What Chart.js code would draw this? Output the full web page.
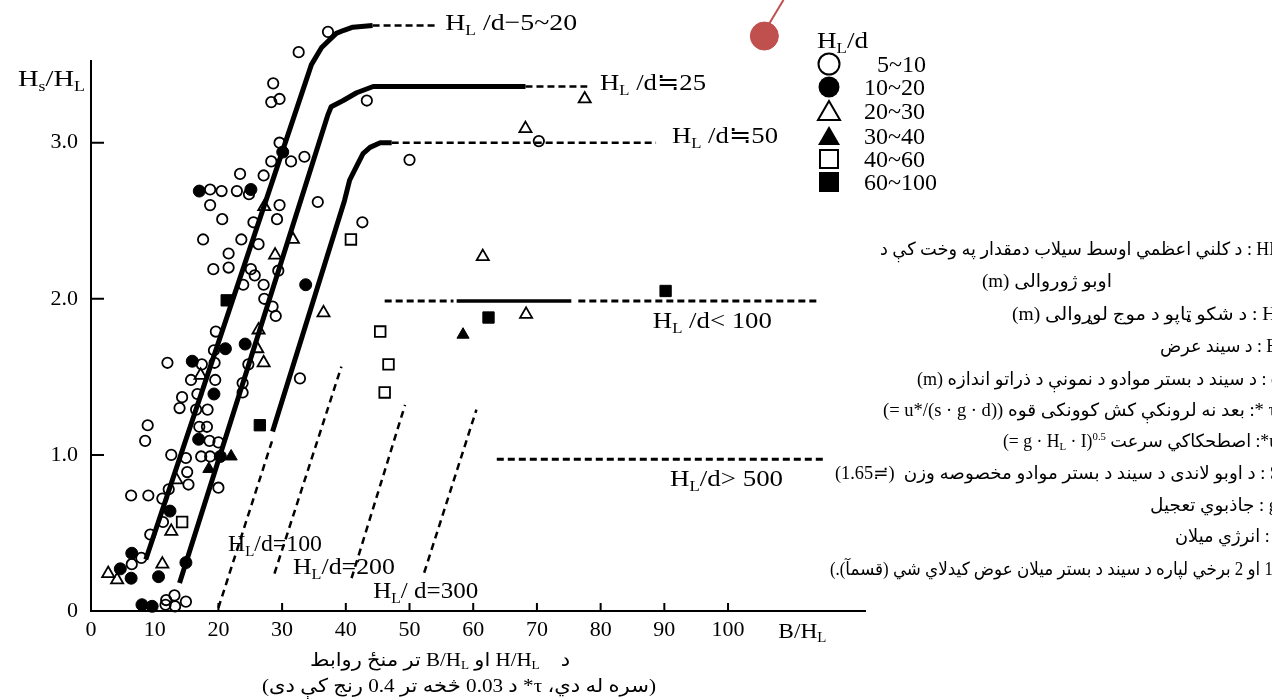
<!DOCTYPE html>
<html>
<head>
<meta charset="utf-8">
<script src="https://cdn.jsdelivr.net/npm/chart.js@4.4.1/dist/chart.umd.min.js"></script>
<style>
  html, body { margin: 0; padding: 0; background: #fff; }
  canvas { display: block; }
</style>
</head>
<body>
<canvas id="chart" width="1272" height="699"></canvas>
<script>
// ---- Series: Hs/HL against B/HL, grouped by HL/d ----
const openCircle5to10 = [
  [37.2,3.71],[32.6,3.58],[28.6,3.38],[28.3,3.26],[29.6,3.28],[29.6,3.00],[28.3,2.88],[31.4,2.88],[33.5,2.91],
  [23.4,2.80],[27.1,2.79],[18.7,2.70],[20.5,2.69],[22.9,2.69],[24.8,2.67],[18.7,2.60],[29.6,2.60],[35.6,2.62],
  [20.6,2.51],[25.5,2.49],[29.2,2.51],[17.6,2.38],[23.6,2.38],[26.3,2.35],[21.6,2.29],[19.2,2.19],[21.6,2.20],
  [25.1,2.19],[25.7,2.15],[29.4,2.18],[23.9,2.09],[27.1,2.09],[27.2,2.00],[28.5,1.95],[29.0,1.89],[43.3,3.27],
  [50.0,2.89],[70.3,3.01],[42.6,2.49],[32.8,1.49],[19.6,1.79],[19.3,1.67],[12.0,1.59],[17.4,1.58],[19.4,1.59],
  [24.7,1.58],[15.7,1.48],[19.5,1.48],[23.8,1.46],[14.3,1.37],[16.7,1.39],[23.8,1.40],[13.9,1.30],[16.5,1.29],
  [18.3,1.29],[8.9,1.19],[17.0,1.18],[18.2,1.18],[8.5,1.09],[18.6,1.09],[20.0,1.08],[12.6,1.00],[14.9,0.98],
  [17.3,0.99],[18.7,0.99],[15.1,0.89],[15.3,0.81],[20.0,0.79],[6.3,0.74],[9.0,0.74],[12.2,0.78],[11.2,0.72],
  [11.3,0.57],[9.3,0.49],[7.9,0.34],[6.4,0.30],[11.7,0.04],[13.1,0.10],[11.8,0.07],[13.2,0.03],[14.9,0.06]
];
const filledCircle10to20 = [
  [30.1,2.94],[17.0,2.69],[25.1,2.70],[33.7,2.09],[21.1,1.68],[24.2,1.71],[15.9,1.60],[19.3,1.39],[16.9,1.10],
  [20.3,0.99],[12.4,0.64],[6.4,0.37],[4.6,0.27],[6.3,0.21],[10.6,0.22],[14.9,0.31],[8.0,0.04],[9.6,0.03]
];
const openTriangle20to30 = [
  [77.5,3.28],[68.2,3.09],[27.2,2.59],[31.7,2.38],[28.9,2.28],[36.5,1.91],[61.5,2.27],[68.3,1.90],[26.3,1.80],
  [26.1,1.68],[27.1,1.59],[17.2,1.51],[13.4,0.84],[12.6,0.51],[2.7,0.24],[4.1,0.20],[11.2,0.30]
];
const filledTriangle30to40 = [[22.0,0.99],[18.5,0.91],[58.4,1.77]];
const openSquare40to60 = [[14.3,0.57],[40.8,2.38],[45.4,1.79],[46.7,1.58],[46.1,1.40]];
const filledSquare60to100 = [[21.3,1.99],[26.5,1.19],[62.4,1.88],[90.2,2.05]];

// ---- Envelope curves ----
const curve5to20 = [[8.6,0.33],[34.6,3.50],[36.2,3.61],[38.5,3.70],[39.7,3.72],[41.1,3.74],[44.2,3.75]];
const curve5to20Ext = [[44.2,3.75],[54.3,3.75]];
const curve25 = [[13.9,0.18],[37.2,3.18],[37.7,3.23],[39.6,3.27],[41.7,3.32],[44.3,3.36],[68.2,3.36]];
const curve25Ext = [[68.2,3.36],[77.9,3.36]];
const curve50 = [[28.5,1.15],[39.8,2.63],[40.6,2.76],[41.7,2.85],[42.7,2.93],[43.8,2.97],[45.4,3.00],[47.2,3.00]];
const curve50Ext = [[47.2,3.00],[88.7,3.00]];
const slope100 = [[20.0,0.02],[28.5,1.10]];
const slope200 = [[28.8,0.24],[39.3,1.565]];
const slope300 = [[40.9,0.21],[49.3,1.32]];
const slope400 = [[52.3,0.245],[60.5,1.29]];
const under100Left = [[46.1,1.986],[56.9,1.986]];
const under100Mid = [[57.4,1.986],[75.4,1.986]];
const under100Right = [[76.5,1.986],[114.1,1.986]];
const over500 = [[63.7,0.972],[115.4,0.972]];

// ---- Pointer mark ----
const pointerDot = [[105.7,3.683]];
const pointerStem = [[106.5,3.765],[108.7,3.914]];

// ---- Axis ticks and legend ----
const xTickValues = [0,10,20,30,40,50,60,70,80,90,100];
const yTickValues = [0,1,2,3];
const yTickText = ['0','1.0','2.0','3.0'];
const yAxisTop = 3.53;
const legendLabels = ['5~10','10~20','20~30','30~40','40~60','60~100'];

const FAMILY = '"Liberation Serif", "DejaVu Sans", serif';
const fnt = (s) => s + 'px ' + FAMILY;
const pts = (arr) => arr.map(([x, y]) => ({ x, y }));

function markers(arr, style, filled, r) {
  return {
    data: pts(arr), showLine: false, pointStyle: style, pointRadius: r,
    pointBackgroundColor: filled ? '#000' : 'rgba(0,0,0,0)', pointBorderColor: '#000',
    pointBorderWidth: filled ? 1 : 1.8, clip: false, order: 1
  };
}
function path(arr, width, dash, color) {
  return {
    data: pts(arr), showLine: true, pointRadius: 0, borderColor: color || '#000',
    borderWidth: width, borderDash: dash || [], borderCapStyle: 'butt', borderJoinStyle: 'round',
    tension: 0, fill: false, clip: false, order: 0
  };
}

// rich text: parts = [{t, s, dy, rtl}]
const P = (t, s, dy, rtl) => ({ t, s, dy: dy || 0, rtl: !!rtl });
const AR = (t, s) => P(t, s, 0, true);
function measure(ctx, parts) {
  let w = 0;
  for (const p of parts) {
    ctx.font = fnt(p.s); ctx.direction = p.rtl ? 'rtl' : 'ltr';
    p.w = ctx.measureText(p.t).width; w += p.w;
  }
  return w;
}
// draws parts so they span [left, right] (horizontal stretch limited)
function drawFit(ctx, parts, left, right, baseline) {
  const w = measure(ctx, parts);
  let sx = (right - left) / w;
  sx = Math.max(0.72, Math.min(1.3, sx));
  ctx.save();
  ctx.translate(right - w * sx, baseline);
  ctx.scale(sx, 1);
  ctx.fillStyle = '#000';
  ctx.textAlign = 'left';
  ctx.textBaseline = 'alphabetic';
  let cx = 0;
  for (const p of parts) {
    ctx.font = fnt(p.s); ctx.direction = p.rtl ? 'rtl' : 'ltr';
    ctx.fillText(p.t, cx, p.dy);
    cx += p.w;
  }
  ctx.restore();
}
const HL = (tail, s) => [P('H', s), P('L', Math.round(s * 0.62), s * 0.2), P(tail, s)];

const decorations = {
  id: 'decorations',
  beforeDraw(chart) {
    const ctx = chart.ctx;
    ctx.save(); ctx.fillStyle = '#fff'; ctx.fillRect(0, 0, chart.width, chart.height); ctx.restore();
  },
  beforeDatasetsDraw(chart) {
    const ctx = chart.ctx, xs = chart.scales.x, ys = chart.scales.y;
    const area = chart.chartArea;
    // y axis line (stops below the top of the plotting room) and inward tick marks
    ctx.save();
    ctx.strokeStyle = '#000'; ctx.lineWidth = 2;
    ctx.beginPath();
    ctx.moveTo(area.left, ys.getPixelForValue(0)); ctx.lineTo(area.left, ys.getPixelForValue(yAxisTop));
    yTickValues.filter(v => v > 0).forEach(v => { const y = ys.getPixelForValue(v); ctx.moveTo(area.left, y); ctx.lineTo(area.left + 13, y); });
    xTickValues.filter(v => v > 0).forEach(v => { const x = xs.getPixelForValue(v); ctx.moveTo(x, area.bottom); ctx.lineTo(x, area.bottom - 8); });
    ctx.stroke();
    ctx.restore();
  },
  afterDraw(chart) {
    const ctx = chart.ctx, xs = chart.scales.x, ys = chart.scales.y;
    const X = (v) => xs.getPixelForValue(v), Y = (v) => ys.getPixelForValue(v);

    // axis names
    drawFit(ctx, [P('H', 24), P('s', 15, 5), P('/H', 24), P('L', 15, 5)], 18, 85, 86);
    drawFit(ctx, [P('B/H', 22), P('L', 14, 4)], X(107.9), X(107.9) + 48, 638);

    // curve annotations (anchored in data units: left edge, baseline)
    const notes = [
      [HL(' /d\u22125~20', 24), 55.6, 3.722, 132],
      [HL(' /d\u225225', 24), 79.9, 3.338, 106],
      [HL(' /d\u225250', 24), 91.2, 2.998, 106],
      [HL(' /d< 100', 24), 88.2, 1.812, 119],
      [HL('/d> 500', 24), 90.9, 0.800, 113],
      [HL('/d=100', 24), 21.5, 0.384, 94],
      [HL('/d=200', 24), 31.7, 0.237, 102],
      [HL('/ d=300', 24), 44.3, 0.083, 105]
    ];
    notes.forEach(([parts, x, y, w]) => drawFit(ctx, parts, X(x), X(x) + w, Y(y)));

    // legend
    ctx.save();
    drawFit(ctx, [P('H', 24), P('L', 15, 5), P('/d', 24)], 817, 868, 48);
    const lx = 829, rows = [64, 87, 111, 136, 159, 182];
    ctx.strokeStyle = '#000'; ctx.fillStyle = '#000'; ctx.lineWidth = 2;
    rows.forEach((cy, i) => {
      ctx.beginPath();
      if (i < 2) ctx.arc(lx, cy, 10.5, 0, Math.PI * 2);
      else if (i < 4) { ctx.moveTo(lx, cy - 10); ctx.lineTo(lx + 11, cy + 9); ctx.lineTo(lx - 11, cy + 9); ctx.closePath(); }
      else if (i === 4) ctx.rect(lx - 9, cy - 9, 18, 18);
      else ctx.rect(lx - 10, cy - 10, 20, 20);
      if (i % 2 === 1) ctx.fill(); else ctx.stroke();
      ctx.font = fnt(24); ctx.textAlign = 'left'; ctx.textBaseline = 'alphabetic'; ctx.direction = 'ltr';
      ctx.fillText(legendLabels[i], i === 0 ? 877 : 864, cy + 8);
    });
    ctx.restore();

    // symbol notes on the right
    const S = 18;
    const lines = [
      [[AR('HL : د کلني اعظمي اوسط سیلاب دمقدار په وخت کې د', S)], 880, 1280, 255],
      [[AR('اوبو ژوروالی (m)', S)], 982, 1112, 287],
      [[AR('Hs : د شکو ټاپو د موج لوړوالی (m)', S)], 1012, 1284, 320],
      [[AR('B : د سیند عرض', S)], 1160, 1278, 352],
      [[AR('d : د سیند د بستر موادو د نمونې د ذراتو اندازه (m)', S)], 917, 1280, 385],
      [[P('(= u*/(s \u00b7 g \u00b7 d)) ', S), AR('\u03c4 *: بعد نه لرونکې کش کوونکی قوه', S)], 883, 1276, 416],
      [[P('(= g \u00b7 H', S), P('L', 11, 3), P(' \u00b7 I)', S), P('0.5', 11, -7), P(' ', S), AR('u*: اصطحکاکي سرعت', S)], 1003, 1278, 447],
      [[AR('S : د اوبو لاندی د سیند د بستر موادو مخصوصه وزن  (\u22521.65)', S)], 835, 1280, 479],
      [[AR('g : جاذبوي تعجیل', S)], 1150, 1278, 511],
      [[AR('I : انرژي میلان', S)], 1175, 1280, 542],
      [[AR('(د 1 او 2 برخي لپاره د سیند د بستر میلان عوض کیدلاي شي (قسمآ).)', S)], 830, 1290, 575]
    ];
    lines.forEach(([parts, l, r, b]) => drawFit(ctx, parts, l, r, b));

    // caption under the plot
    drawFit(ctx, [AR('تر منځ روابط', 19), P(' B/H', 19), P('L', 12, 3), AR(' او ', 19), P('H/H', 19), P('L', 12, 3), P('    ', 19), AR('د', 19)], 310, 570, 666);
    drawFit(ctx, [AR('(سره له دي، \u03c4* د 0.03 څخه تر 0.4 رنج کې دی)', 19)], 262, 656, 692);
  }
};

new Chart(document.getElementById('chart'), {
  type: 'scatter',
  data: {
    datasets: [
      markers(openCircle5to10, 'circle', false, 5.2),
      markers(filledCircle10to20, 'circle', true, 6),
      markers(openTriangle20to30, 'triangle', false, 7),
      markers(filledTriangle30to40, 'triangle', true, 7),
      markers(openSquare40to60, 'rect', false, 7.5),
      markers(filledSquare60to100, 'rect', true, 8),
      path(curve5to20, 5), path(curve5to20Ext, 2.5, [7, 4]),
      path(curve25, 5), path(curve25Ext, 2.5, [7, 4]),
      path(curve50, 5), path(curve50Ext, 2.5, [7, 4]),
      path(slope100, 2.5, [7, 5]), path(slope200, 2.5, [7, 5]),
      path(slope300, 2.5, [7, 5]), path(slope400, 2.5, [7, 5]),
      path(under100Left, 3, [7, 4]), path(under100Mid, 3.5), path(under100Right, 3, [7, 4]),
      path(over500, 3, [7, 4]),
      path(pointerStem, 2, [], '#C0504D'),
      Object.assign(markers(pointerDot, 'circle', true, 14), { pointBackgroundColor: '#C0504D', pointBorderColor: '#C0504D', order: 0 })
    ]
  },
  options: {
    responsive: false,
    devicePixelRatio: 1,
    animation: false,
    events: [],
    layout: { autoPadding: false, padding: { left: 0, top: 0, right: 407, bottom: 0 } },
    plugins: { legend: { display: false }, tooltip: { enabled: false } },
    scales: {
      x: {
        type: 'linear', min: 0, max: 121.5,
        afterFit: (s) => { s.height = 88; s.paddingLeft = 0; s.paddingRight = 0; },
        grid: { display: false, drawTicks: false },
        border: { display: true, color: '#000', width: 2 },
        ticks: {
          stepSize: 10, includeBounds: false, padding: 6, maxRotation: 0, autoSkip: false, color: '#000',
          font: { family: FAMILY, size: 22 },
          callback: (v) => xTickValues.includes(v) ? String(v) : ''
        }
      },
      y: {
        type: 'linear', min: 0, max: 3.914,
        afterFit: (s) => { s.width = 91; s.paddingTop = 0; s.paddingBottom = 0; },
        grid: { display: false, drawTicks: false },
        border: { display: false },
        ticks: {
          stepSize: 1, includeBounds: false, padding: 13, color: '#000',
          font: { family: FAMILY, size: 22 },
          callback: (v) => { const i = yTickValues.indexOf(v); return i >= 0 ? yTickText[i] : ''; }
        }
      }
    }
  },
  plugins: [decorations]
});
</script>
</body>
</html>
